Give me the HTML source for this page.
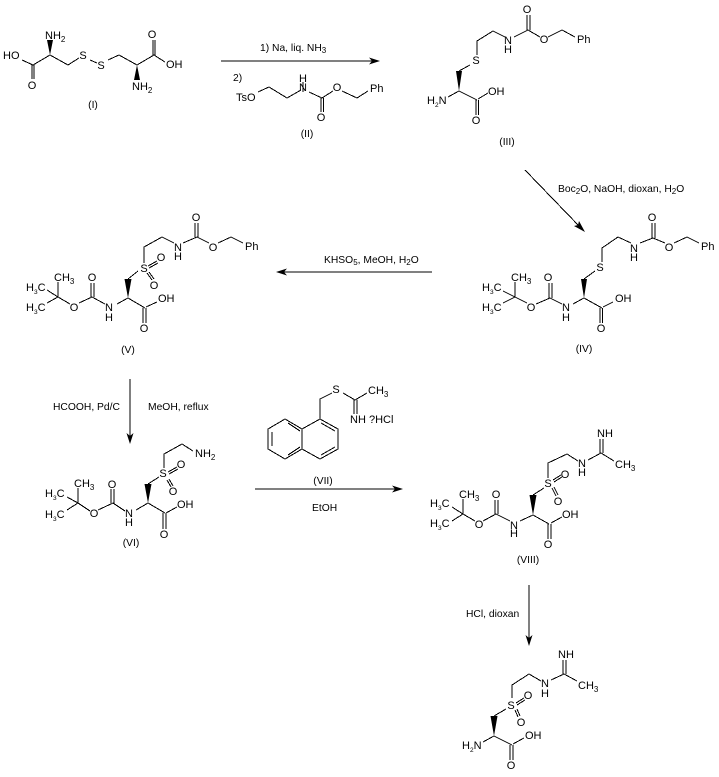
<!DOCTYPE html>
<html><head><meta charset="utf-8"><style>
html,body{margin:0;padding:0;background:#fff}
svg{display:block}
text{font-family:"Liberation Sans",Arial,sans-serif;font-size:11px;fill:#000}
.m{text-anchor:middle}
.r{font-size:10.3px}
.b{stroke:#000;stroke-width:1;fill:none;shape-rendering:crispEdges}
tspan.s{font-size:8px}
tspan.t{font-size:6.5px}
</style></head><body>
<svg width="719" height="777" viewBox="0 0 719 777" xmlns="http://www.w3.org/2000/svg">
<!-- I -->
<path class="b" d="M22 60L33 65L50 55L68 65L79 58M90 60L97 63M108 60L119 55L137 65L154 55M154 55L165 62M32 65V79M34 65V79M153 55V40M155 55V40"/>
<polygon points="50,55 47,40 53,40"/><polygon points="137,65 134,80 140,80"/>
<text x="3" y="59">HO</text><text x="32" y="89" class="m">O</text><text x="45" y="39">NH<tspan class="s" dy="3">2</tspan></text>
<text x="83" y="59" class="m">S</text><text x="101" y="69" class="m">S</text><text x="132" y="90">NH<tspan class="s" dy="3">2</tspan></text>
<text x="152" y="38" class="m">O</text><text x="166" y="68">OH</text><text x="93" y="108" class="m r">(I)</text>
<!-- arrow 1, II -->
<path class="b" d="M221 61H372"/><polygon points="380,61 369,57.5 372,61 369,64.5"/>
<text x="260" y="51" class="r">1) Na, liq. NH<tspan class="s" dy="2">3</tspan></text><text x="233" y="81" class="r">2)</text>
<path class="b" d="M258 92L269 87L287 98L301 90M309 92L322 98L333 91M342 91L357 98L368 91M303 82V92M321 98V112M323.500 98V112"/>
<text x="236" y="101">TsO</text><text x="303" y="91" class="m">N</text><text x="303" y="82" class="m">H</text><text x="321" y="121" class="m">O</text><text x="337" y="91" class="m">O</text><text x="370" y="92">Ph</text><text x="307" y="137" class="m r">(II)</text>
<!-- III -->
<path class="b" d="M527 15V30M530 15V30M514 37L528 30L540 37M548 37L562 30L575 37M505 37L493 31L477 41V55M470 65L459 71M448 97L459 91L477 100M476 100V115M478.500 100V115M478 99L488 93"/>
<polygon points="459,91 456,71 462,71"/>
<text x="527" y="13" class="m">O</text><text x="508" y="44" class="m">N</text><text x="508" y="53" class="m">H</text><text x="544" y="43" class="m">O</text><text x="577" y="43">Ph</text><text x="476" y="64" class="m">S</text><text x="427" y="104">H<tspan class="t" dy="3">2</tspan><tspan dy="-3">N</tspan></text><text x="488" y="95">OH</text><text x="476" y="124" class="m">O</text><text x="507" y="145" class="m r">(III)</text>
<!-- arrow 2 -->
<path class="b" d="M525 170L580 227"/><polygon points="585,232 574,226 578,225 579,221"/>
<text x="558" y="192" class="r">Boc<tspan class="s" dy="2">2</tspan><tspan dy="-2">O, NaOH, dioxan, H</tspan><tspan class="s" dy="2">2</tspan><tspan dy="-2">O</tspan></text>
<!-- IV -->
<path class="b" d="M652 223V238M655 223V238M640 243L653 238L665 243M674 243L687 237L699 243M631 243L618 237L602 248V262M595 271L584 279M573 304L584 298L602 308M600 308V323M602.500 308V323M603 307L613 302M562 304L550 298L536 304M549 283V298M552 283V298M527 303L515 297L503 291M515 297L503 303M515 297V282"/>
<polygon points="584,298 581,279 587,279"/>
<text x="652" y="221" class="m">O</text><text x="634" y="252" class="m">N</text><text x="634" y="261" class="m">H</text><text x="669" y="251" class="m">O</text><text x="701" y="250">Ph</text><text x="600" y="271" class="m">S</text><text x="566" y="311" class="m">N</text><text x="566" y="321" class="m">H</text><text x="601" y="332" class="m">O</text><text x="615" y="302">OH</text><text x="548" y="281" class="m">O</text><text x="531" y="311" class="m">O</text><text x="511" y="281">CH<tspan class="s" dy="3">3</tspan></text><text x="482" y="291">H<tspan class="t" dy="3">3</tspan><tspan dy="-3">C</tspan></text><text x="482" y="311">H<tspan class="t" dy="3">3</tspan><tspan dy="-3">C</tspan></text><text x="584" y="352" class="m r">(IV)</text>
<!-- arrow 3 -->
<path class="b" d="M432 272H284"/><polygon points="276,272 287,268.500 284,272 287,275.500"/>
<text x="324" y="263" class="r">KHSO<tspan class="s" dy="2">5</tspan><tspan dy="-2">, MeOH, H</tspan><tspan class="s" dy="2">2</tspan><tspan dy="-2">O</tspan></text>
<!-- V -->
<path class="b" d="M47 290L58 297L47 303M58 297V282M58 297L70 304M79 303L92 297L105 304M91 283V297M94 283V297M117 304L128 298L145 308M128 279L138 271M144 263V247L162 237L174 243M183 243L197 237L209 243M195 223V237M198 223V237M218 243L231 237L243 243M148 266L157 261M149 268L158 263M147 273L152 280M149 272L154 279M143 308V323M146 308V323M146 307L157 302"/>
<polygon points="128,298 124.500,279 131.500,279"/>
<text x="26" y="291">H<tspan class="t" dy="3">3</tspan><tspan dy="-3">C</tspan></text><text x="26" y="311">H<tspan class="t" dy="3">3</tspan><tspan dy="-3">C</tspan></text><text x="54" y="281">CH<tspan class="s" dy="3">3</tspan></text><text x="74" y="311" class="m">O</text><text x="92" y="281" class="m">O</text><text x="109" y="311" class="m">N</text><text x="109" y="321" class="m">H</text><text x="144" y="272" class="m">S</text><text x="178" y="251" class="m">N</text><text x="178" y="260" class="m">H</text><text x="196" y="221" class="m">O</text><text x="213" y="251" class="m">O</text><text x="245" y="250">Ph</text><text x="161" y="261" class="m">O</text><text x="154" y="289" class="m">O</text><text x="144" y="332" class="m">O</text><text x="158" y="302">OH</text><text x="128" y="353" class="m r">(V)</text>
<!-- arrow 4 -->
<path class="b" d="M130 379V436"/><polygon points="130,444 126.500,433 130,436 133.500,433"/>
<text x="53" y="410" class="r">HCOOH, Pd/C</text><text x="148" y="410" class="r">MeOH, reflux</text>
<!-- VI -->
<path class="b" d="M67 497L78 503L67 510M78 503V488M78 503L90 511M98 510L113 503L125 511M111 489V503M114 489V503M136 510L148 503L165 513M148 484L159 477M164 468V454L182 444L193 451M168 472L177 467M169 474L178 469M167 480L171 487M169 479L173 486M163 513V529M166 513V529M166 513L177 507"/>
<polygon points="148,503 144.500,484 151.500,484"/>
<text x="45" y="497">H<tspan class="t" dy="3">3</tspan><tspan dy="-3">C</tspan></text><text x="45" y="518">H<tspan class="t" dy="3">3</tspan><tspan dy="-3">C</tspan></text><text x="74" y="487">CH<tspan class="s" dy="3">3</tspan></text><text x="94" y="517" class="m">O</text><text x="112" y="488" class="m">O</text><text x="129" y="517" class="m">N</text><text x="129" y="526" class="m">H</text><text x="163" y="477" class="m">S</text><text x="195" y="457">NH<tspan class="s" dy="3">2</tspan></text><text x="181" y="468" class="m">O</text><text x="173" y="495" class="m">O</text><text x="164" y="538" class="m">O</text><text x="177" y="508">OH</text><text x="131" y="546" class="m r">(VI)</text>
<!-- VII -->
<path class="b" d="M285 419L302 429L320 419L338 429V449L320 459L302 449L285 459L268 449V429ZM302 429V449M272 432V446M288 423L300 431M288 455L300 447M321 423L335 431M321 455L335 447M320 419V399L332 393M343 393L355 400L367 393M354 400V414M357 400V414"/>
<text x="336" y="393" class="m">S</text><text x="368" y="394">CH<tspan class="s" dy="3">3</tspan></text><text x="350" y="423">NH</text><text x="369" y="423">?HCl</text><text x="323" y="484" class="m r">(VII)</text>
<path class="b" d="M255 489H395"/><polygon points="403,489 392,485.500 395,489 392,492.500"/>
<text x="312" y="511" class="r">EtOH</text>
<!-- VIII -->
<path class="b" d="M452 507L463 514L452 521M463 514V499M463 514L475 521M483 521L496 514L510 521M495 500V514M498 500V514M520 521L533 515L549 524M533 495L544 488M548 478V463L567 454L578 461M588 460L601 453L614 461M600 439V453M603 439V453M553 480L561 475M554 482L562 477M552 488L556 496M554 487L558 495M548 524V539M551 524V539M551 523L562 517"/>
<polygon points="533,515 529.500,495 536.500,495"/>
<text x="430" y="507">H<tspan class="t" dy="3">3</tspan><tspan dy="-3">C</tspan></text><text x="430" y="527">H<tspan class="t" dy="3">3</tspan><tspan dy="-3">C</tspan></text><text x="459" y="498">CH<tspan class="s" dy="3">3</tspan></text><text x="479" y="528" class="m">O</text><text x="496" y="498" class="m">O</text><text x="514" y="529" class="m">N</text><text x="514" y="537" class="m">H</text><text x="548" y="487" class="m">S</text><text x="582" y="467" class="m">N</text><text x="582" y="476" class="m">H</text><text x="597" y="437">NH</text><text x="615" y="468">CH<tspan class="s" dy="3">3</tspan></text><text x="565" y="478" class="m">O</text><text x="558" y="505" class="m">O</text><text x="548" y="548" class="m">O</text><text x="562" y="518">OH</text><text x="528" y="563" class="m r">(VIII)</text>
<!-- arrow 5 -->
<path class="b" d="M529 585V638"/><polygon points="529,646 525.500,635 529,638 532.500,635"/>
<text x="466" y="617" class="r">HCl, dioxan</text>
<!-- final -->
<path class="b" d="M563 660V674M566 660V674M551 680L564 674L577 681M541 681L529 674L512 685V698M506 709L494 716M483 742L494 736L512 745M510 745V760M513 745V760M513 744L524 738M516 703L524 698M517 705L525 700M515 710L518 717M517 709L520 716"/>
<polygon points="494,736 490.500,716 497.500,716"/>
<text x="558" y="658">NH</text><text x="545" y="687" class="m">N</text><text x="545" y="697" class="m">H</text><text x="578" y="689">CH<tspan class="s" dy="3">3</tspan></text><text x="511" y="709" class="m">S</text><text x="462" y="749">H<tspan class="t" dy="3">2</tspan><tspan dy="-3">N</tspan></text><text x="511" y="769" class="m">O</text><text x="525" y="739">OH</text><text x="528" y="699" class="m">O</text><text x="521" y="726" class="m">O</text>
</svg>
</body></html>
